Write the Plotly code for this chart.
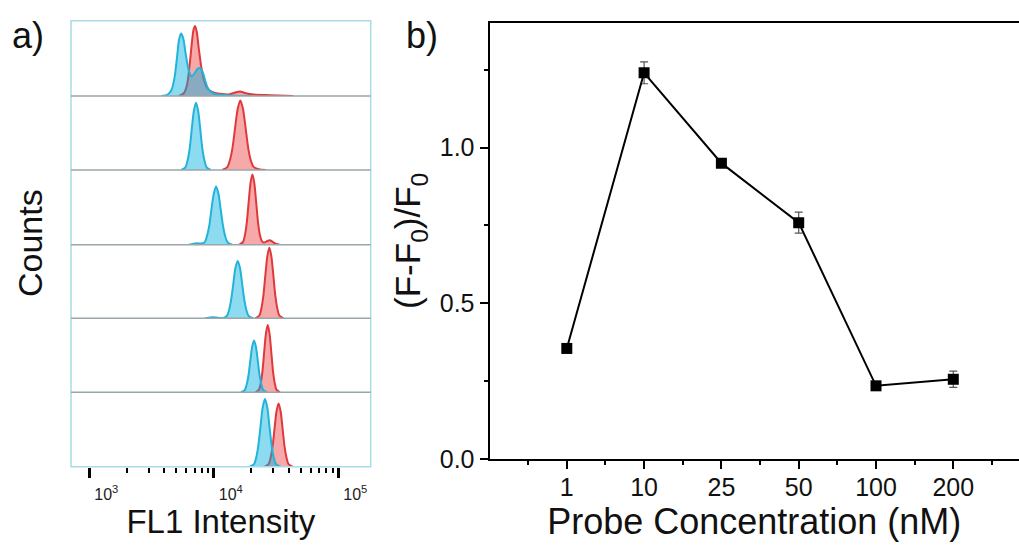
import plotly.graph_objects as go

# ---------------- data ----------------
# panel a: flow-cytometry histograms (log10 FL1 intensity, counts in % of strip height)
cyan_logx = [
    [3.58, 3.63, 3.66, 3.685, 3.705, 3.72, 3.737, 3.755, 3.775, 3.80, 3.822, 3.845, 3.87, 3.889, 3.91, 3.935, 3.96, 4.0, 4.1, 4.3],
    [3.738, 3.772, 3.789, 3.806, 3.823, 3.840, 3.857, 3.874, 3.891, 3.908, 3.925, 3.942, 3.976],
    [3.80, 3.86, 3.895, 3.926, 3.944, 3.963, 3.981, 4.000, 4.018, 4.037, 4.055, 4.074, 4.092, 4.111, 4.148],
    [3.93, 3.99, 4.03, 4.069, 4.104, 4.122, 4.139, 4.157, 4.174, 4.192, 4.21, 4.227, 4.245, 4.262, 4.28, 4.315],
    [4.218, 4.248, 4.263, 4.278, 4.293, 4.308, 4.323, 4.338, 4.353, 4.368, 4.383, 4.398, 4.428],
    [4.288, 4.323, 4.341, 4.358, 4.376, 4.393, 4.411, 4.429, 4.446, 4.464, 4.481, 4.499, 4.534],
]
cyan_counts = [
    [0, 2, 8, 25, 52, 74, 83, 76, 55, 33, 26, 30, 36, 37, 32, 18, 8, 3, 1, 0],
    [0, 3.6, 12.7, 29, 55.5, 80, 91, 80, 55.5, 29, 12.7, 3.6, 0],
    [0, 2, 1.5, 3.1, 10.9, 25, 47.6, 68.6, 78, 68.6, 47.6, 25, 10.9, 3.1, 0],
    [0, 1.5, 0.8, 0, 3.1, 10.9, 25, 47.6, 68.6, 78, 68.6, 47.6, 25, 10.9, 3.1, 0],
    [0, 2.8, 9.8, 22.4, 42.7, 61.6, 70, 61.6, 42.7, 22.4, 9.8, 2.8, 0],
    [0, 3.6, 12.7, 29.1, 55.5, 80.1, 91, 80.1, 55.5, 29.1, 12.7, 3.6, 0],
]
red_logx = [
    [3.72, 3.76, 3.785, 3.805, 3.822, 3.837, 3.849, 3.862, 3.88, 3.90, 3.92, 3.95, 3.99, 4.05, 4.12, 4.18, 4.21, 4.25, 4.32, 4.45, 4.64],
    [4.066, 4.108, 4.129, 4.150, 4.171, 4.192, 4.213, 4.234, 4.255, 4.276, 4.297, 4.318, 4.36, 4.42],
    [4.205, 4.235, 4.25, 4.265, 4.28, 4.295, 4.31, 4.325, 4.34, 4.355, 4.37, 4.385, 4.40, 4.43, 4.45, 4.47, 4.50, 4.53],
    [4.334, 4.366, 4.382, 4.398, 4.414, 4.43, 4.446, 4.462, 4.478, 4.494, 4.51, 4.526, 4.56],
    [4.335, 4.363, 4.377, 4.391, 4.405, 4.419, 4.433, 4.447, 4.461, 4.475, 4.489, 4.503, 4.531],
    [4.408, 4.44, 4.456, 4.472, 4.488, 4.504, 4.52, 4.536, 4.552, 4.568, 4.584, 4.60, 4.632],
]
red_counts = [
    [0, 4, 15, 40, 68, 88, 93, 86, 62, 38, 22, 10, 5, 3, 2, 5, 6, 4, 2, 1, 0],
    [0, 3.8, 13.2, 30, 57.3, 82.7, 94, 82.7, 57.3, 30, 13.2, 4.5, 1, 0],
    [0, 3.8, 13.2, 30, 57.3, 82.7, 94, 82.7, 57.3, 30, 13.2, 5, 3, 5, 6, 4, 1, 0],
    [0, 3.8, 13.4, 30.7, 58.6, 84.5, 96, 84.5, 58.6, 30.7, 13.4, 3.8, 0],
    [0, 3.6, 12.7, 29.1, 55.5, 80.1, 91, 80.1, 55.5, 29.1, 12.7, 3.6, 0],
    [0, 3.4, 11.9, 27.2, 51.9, 74.8, 85, 74.8, 51.9, 27.2, 11.9, 3.4, 0],
]
fl1_tickvals = [1e3, 1e4, 1e5]
fl1_ticktext = ["10<sup>3</sup>", "10<sup>4</sup>", "10<sup>5</sup>"]
fl1_minor = [2e3, 3e3, 4e3, 5e3, 6e3, 7e3, 8e3, 9e3, 2e4, 3e4, 4e4, 5e4, 6e4, 7e4, 8e4, 9e4]

# panel b
concentrations = ["1", "10", "25", "50", "100", "200"]
response = [0.355, 1.240, 0.950, 0.759, 0.235, 0.256]
response_err = [0.008, 0.035, 0.008, 0.034, 0.010, 0.026]

# ---------------- layout helpers ----------------
W, H_REF = 1019, 547
H = 561
def px(x):
    return x / W
def py(y):
    return 1 - y / H_REF

strip_px = [20.7, 96, 170, 244.7, 318.3, 392.3, 466.7]
ax_left, ax_right = 71, 370.7
b_left, b_step = 489.5, 77.3
FONT = "Arial, Liberation Sans, sans-serif"

fig = go.Figure()
CYAN_LINE = "#22b4d8"
CYAN_FILL = "rgba(0,175,225,0.45)"
RED_LINE = "#e0393c"
RED_FILL = "rgba(238,62,62,0.45)"

for i in range(6):
    yname = "y" if i == 0 else f"y{i+1}"
    fig.add_trace(go.Scatter(
        x=[10 ** v for v in red_logx[i]], y=red_counts[i], xaxis="x", yaxis=yname,
        mode="lines", line=dict(color=RED_LINE, width=2, shape="spline", smoothing=0.8),
        fill="tozeroy", fillcolor=RED_FILL, showlegend=False, hoverinfo="skip"))
    fig.add_trace(go.Scatter(
        x=[10 ** v for v in cyan_logx[i]], y=cyan_counts[i], xaxis="x", yaxis=yname,
        mode="lines", line=dict(color=CYAN_LINE, width=2, shape="spline", smoothing=0.8),
        fill="tozeroy", fillcolor=CYAN_FILL, showlegend=False, hoverinfo="skip"))

xpos = list(range(1, len(concentrations) + 1))
fig.add_trace(go.Scatter(
    x=xpos, y=response, xaxis="x2", yaxis="y7", mode="lines+markers",
    line=dict(color="black", width=2),
    marker=dict(symbol="square", size=11, color="black"),
    error_y=dict(type="data", array=response_err, visible=True, color="#555555", thickness=1.2, width=4),
    showlegend=False))

layout = dict(
    width=W, height=H, autosize=False,
    margin=dict(l=0, r=0, t=0, b=0),
    paper_bgcolor="white", plot_bgcolor="rgba(0,0,0,0)",
    font=dict(family=FONT, color="#1a1a1a"),
    showlegend=False,
)

layout["xaxis"] = dict(
    type="log", range=[2.853, 5.26], domain=[px(ax_left), px(ax_right)], anchor="y6",
    showgrid=False, zeroline=False, showline=False,
    tickmode="array", tickvals=fl1_tickvals, ticktext=fl1_ticktext,
    ticks="outside", ticklen=10, tickwidth=3, tickcolor="black",
    ticklabelshift=17, ticklabelstandoff=3,
    tickfont=dict(size=16, color="#222"),
    minor=dict(tickvals=fl1_minor, ticks="outside", ticklen=5, tickwidth=2, tickcolor="black"),
    title=dict(text="FL1 Intensity", font=dict(size=33, color="#111"), standoff=6),
)
for i in range(6):
    key = "yaxis" if i == 0 else f"yaxis{i+1}"
    top, bot = strip_px[i], strip_px[i + 1]
    layout[key] = dict(domain=[py(bot), py(top)], range=[0, 100], visible=False,
                       anchor="x", fixedrange=True)

layout["xaxis2"] = dict(
    domain=[px(b_left), 1.0], range=[0, (W - b_left) / b_step], anchor="y7",
    showgrid=False, zeroline=False, showline=True, linecolor="black", linewidth=2, mirror=True,
    tickmode="array", tickvals=xpos, ticktext=concentrations,
    ticks="outside", ticklen=8, tickwidth=2, tickcolor="black",
    ticklabelstandoff=-3,
    tickfont=dict(size=25, color="#111"),
    minor=dict(tickvals=[0.5, 1.5, 2.5, 3.5, 4.5, 5.5, 6.5], ticks="outside", ticklen=4,
               tickwidth=2, tickcolor="black"),
    title=dict(text="Probe Concentration (nM)", font=dict(size=36, color="#111"), standoff=8),
)
layout["yaxis7"] = dict(
    domain=[py(459), py(22.7)], range=[0, 1.401], anchor="x2",
    showgrid=False, zeroline=False, showline=True, linecolor="black", linewidth=2, mirror=False,
    tickmode="array", tickvals=[0, 0.5, 1.0], ticktext=["0.0", "0.5", "1.0"],
    ticks="outside", ticklen=8, tickwidth=2, tickcolor="black",
    tickfont=dict(size=25, color="#111"),
    minor=dict(tickvals=[0.25, 0.75, 1.25], ticks="outside", ticklen=4, tickwidth=2, tickcolor="black"),
    title=dict(text="(F-F<sub>0</sub>)/F<sub>0</sub>", font=dict(size=35, color="#111"), standoff=8),
)
fig.update_layout(**layout)

# frame of panel a
shapes = [dict(type="rect", xref="paper", yref="paper",
               x0=px(ax_left), x1=px(ax_right), y0=py(strip_px[-1]), y1=py(strip_px[0]),
               line=dict(color="#a8dbe5", width=1.5), layer="above")]
for yb in strip_px[1:-1]:
    shapes.append(dict(type="line", xref="paper", yref="paper",
                       x0=px(ax_left), x1=px(ax_right), y0=py(yb), y1=py(yb),
                       line=dict(color="#9aa6aa", width=1.5), layer="above"))
fig.update_layout(shapes=shapes)

fig.update_layout(annotations=[
    dict(text="a)", x=px(10), y=py(36), xref="paper", yref="paper", xanchor="left", yanchor="middle",
         showarrow=False, font=dict(size=36, color="#111")),
    dict(text="b)", x=px(404), y=py(36), xref="paper", yref="paper", xanchor="left", yanchor="middle",
         showarrow=False, font=dict(size=36, color="#111")),
    dict(text="Counts", x=px(30), y=py(243), xref="paper", yref="paper", xanchor="center", yanchor="middle",
         textangle=-90, showarrow=False, font=dict(size=34, color="#111")),
])

reset_css = ("document.documentElement.style.margin='0';document.body.style.margin='0';"
             "document.body.style.padding='0';document.body.style.overflow='hidden';")
fig.write_html("out.html", config={"displayModeBar": False},
               post_script="}); " + reset_css + " (function(){")
